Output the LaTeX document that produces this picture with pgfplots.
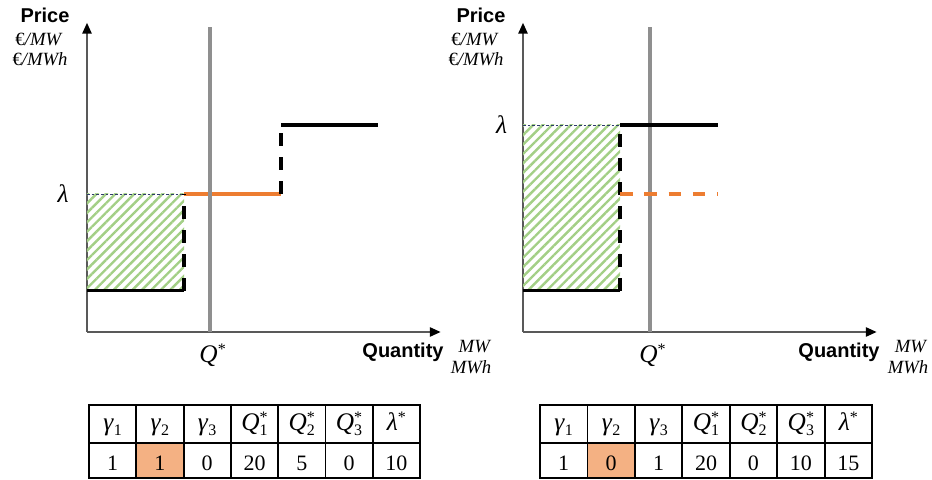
\documentclass[border=0pt]{standalone}
\usepackage{pgfplots}
\pgfplotsset{compat=1.18}
\usepackage{fontspec}
\setmainfont{Liberation Serif}
\newfontfamily\arialfont{Liberation Sans}
\usetikzlibrary{arrows.meta,patterns.meta}
\definecolor{orng}{HTML}{ED7D31}
\definecolor{lorng}{HTML}{F4B183}
\definecolor{hgreen}{HTML}{A3CF86}
\definecolor{qgray}{HTML}{8F8F8F}
\definecolor{axgray}{HTML}{595959}
\definecolor{navy}{HTML}{2F3A6A}

\newcommand\scr{\fontsize{12}{12}\selectfont\upshape}
\newcommand\QS[1]{\textit{Q}\makebox[0pt][l]{\raisebox{0.3em}{\scr *}}\raisebox{-0.2em}{\scr #1}}
\newcommand\GS[1]{\textit{γ}\raisebox{-0.2em}{\scr #1}}
\newcommand\LS{\textit{λ}\raisebox{0.3em}{\scr *}}

\pgfplotsset{
  panel/.style={
    x=3.6375pt, y=10.35pt,
    xmin=0, xmax=72.9, ymin=0, ymax=22.4,
    axis lines=left, enlargelimits=false, clip=false,
    xtick=\empty, ytick=\empty,
    axis line style={draw=axgray, line width=1pt, -{Triangle[length=8pt,width=7pt,color=black]}},
    anchor=south west,
  },
  stepline/.style={black, line width=2.5pt},
  dstep/.style={black, line width=2.5pt, dash pattern=on 9.75pt off 8.25pt},
  hatch/.style={draw=none, pattern={Lines[angle=45,distance=5pt,line width=1.8pt]}, pattern color=hgreen},
  qline/.style={qgray, line width=3pt},
  lamline/.style={navy, line width=0.6pt, dash pattern=on 2pt off 1.5pt},
}
\tikzset{
  mathlab/.style={inner sep=0pt, font=\fontsize{19}{20}\selectfont\itshape},
  pricelab/.style={inner sep=0pt, anchor=base, font=\arialfont\bfseries\fontsize{15}{16}\selectfont},
  unitlab/.style={inner sep=0pt, anchor=base, font=\fontsize{14}{15}\selectfont},
  tabhead/.style={inner sep=0pt, anchor=base, font=\fontsize{19}{20}\selectfont},
  tabfont/.style={inner sep=0pt, anchor=base, font=\fontsize{16.5}{18}\selectfont},
}

\begin{document}
\begin{tikzpicture}
\useasboundingbox (0,0) rectangle (699pt,359.25pt);

% ---------------- left panel ----------------
\begin{axis}[panel, at={(65.25pt,110.25pt)}]
  \addplot[hatch] coordinates {(0,3) (20,3) (20,10) (0,10)} -- cycle;
  \addplot[lamline] coordinates {(0,10) (20,10)};
  \addplot[orng, line width=2.6pt] coordinates {(20,10) (40,10)};
  \addplot[qline] coordinates {(25.3,0) (25.3,22.1)};
  \addplot[stepline] coordinates {(0,3) (20,3)};
  \addplot[dstep] coordinates {(20,3) (20,10)};
  \addplot[dstep] coordinates {(40,10) (40,15)};
  \addplot[stepline] coordinates {(40,15) (60,15)};
  \node[mathlab] at (axis cs:-4.9,10) {λ};
  \node[mathlab] at (axis cs:25.9,-1.67) {Q\raisebox{0.3em}{\scr *}};
\end{axis}

% ---------------- right panel ----------------
\begin{axis}[panel, at={(392.25pt,110.25pt)}]
  \addplot[hatch] coordinates {(0,3) (20,3) (20,15) (0,15)} -- cycle;
  \addplot[lamline] coordinates {(0,15) (20,15)};
  \addplot[qline] coordinates {(26.2,0) (26.2,22.1)};
  \addplot[stepline] coordinates {(0,3) (20,3)};
  \addplot[dstep] coordinates {(20,3) (20,15)};
  \addplot[stepline] coordinates {(20,15) (40.2,15)};
  \addplot[orng, line width=2.6pt, dash pattern=on 9.4pt off 8.8pt] coordinates {(20,10) (40.2,10)};
  \node[mathlab] at (axis cs:-4.4,15) {λ};
  \node[mathlab] at (axis cs:26.7,-1.67) {Q\raisebox{0.3em}{\scr *}};
\end{axis}

% ---------------- texts and tables (pixel coordinates) ----------------
\begin{scope}[x=0.75pt,y=-0.75pt,shift={(0,-479)}]
  % left labels
  \node[pricelab] at (45,23) {Price};
  \node[unitlab] at (39,46) {€\textit{/MW}};
  \node[unitlab] at (40,66) {€\textit{/MWh}};
  \node[pricelab] at (403,357) {Quantity};
  \node[unitlab] at (475,352) {\textit{MW}};
  \node[unitlab] at (471,373) {\textit{MWh}};
  % right labels
  \node[pricelab] at (481,23) {Price};
  \node[unitlab] at (475,46) {€\textit{/MW}};
  \node[unitlab] at (476,66) {€\textit{/MWh}};
  \node[pricelab] at (839,357) {Quantity};
  \node[unitlab] at (911,352) {\textit{MW}};
  \node[unitlab] at (908,373) {\textit{MWh}};

  % left table
  \fill[lorng] (136.29,443) rectangle (183.58,478);
  \draw[line width=1.4pt] (89,405) rectangle (420,478);
  \draw[line width=1.4pt] (89,443) -- (420,443);
  \foreach \k in {1,...,6} \draw[line width=1.4pt] ({89+\k*47.286},405) -- ({89+\k*47.286},478);
  \foreach \t [count=\i from 0] in {{\GS{1}},{\GS{2}},{\GS{3}},{\QS{1}},{\QS{2}},{\QS{3}},{\LS}}
    \node[tabhead] at ({89+(\i+0.5)*47.286},430) {\t};
  \foreach \t [count=\i from 0] in {1,1,0,20,5,0,10}
    \node[tabfont] at ({89+(\i+0.5)*47.286},470) {\t};

  % right table
  \fill[lorng] (587.43,443) rectangle (634.86,478);
  \draw[line width=1.4pt] (540,405) rectangle (872,478);
  \draw[line width=1.4pt] (540,443) -- (872,443);
  \foreach \k in {1,...,6} \draw[line width=1.4pt] ({540+\k*47.429},405) -- ({540+\k*47.429},478);
  \foreach \t [count=\i from 0] in {{\GS{1}},{\GS{2}},{\GS{3}},{\QS{1}},{\QS{2}},{\QS{3}},{\LS}}
    \node[tabhead] at ({540+(\i+0.5)*47.429},430) {\t};
  \foreach \t [count=\i from 0] in {1,0,1,20,0,10,15}
    \node[tabfont] at ({540+(\i+0.5)*47.429},470) {\t};
\end{scope}
\end{tikzpicture}
\end{document}
